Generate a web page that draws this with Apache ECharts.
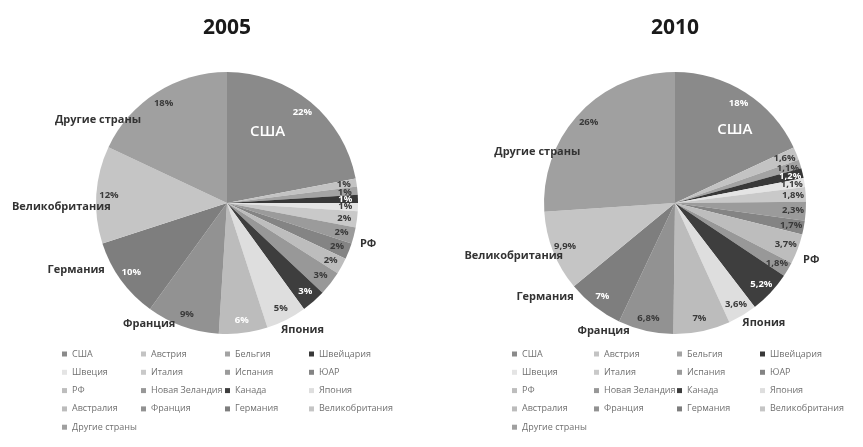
<!DOCTYPE html>
<html><head><meta charset="utf-8">
<script src="https://cdn.jsdelivr.net/npm/echarts@6/dist/echarts.min.js"></script>
<style>html,body{margin:0;padding:0;background:#fff}#c{width:863px;height:447px}</style>
</head><body><div id="c"></div>
<script>
// ---- data ----
const categories = ['США','Австрия','Бельгия','Швейцария','Швеция','Италия','Испания','ЮАР','РФ','Новая Зеландия','Канада','Япония','Австралия','Франция','Германия','Великобритания','Другие страны'];
const values2005 = [22,1,1,1,1,2,2,2,2,3,3,5,6,9,10,12,18];
const values2010 = [18,1.6,1.1,1.2,1.1,1.8,2.3,1.7,3.7,1.8,5.2,3.6,7,6.8,7,9.9,26];
const yearTitles = ['2005','2010'];
const namedSlices = ['Другие страны','Великобритания','Германия','Франция','Япония','РФ'];

// ---- styles ----
const FONT = 'Open Sans';
const sliceColors = ['#8a8a8a','#c3c3c3','#a3a3a3','#383838','#e4e4e4','#c9c9c9','#9b9b9b','#848484','#bdbdbd','#989898','#3e3e3e','#dedede','#bcbcbc','#929292','#7e7e7e','#c5c5c5','#a0a0a0'];
const charts = [
  { values: values2005, center: [227, 203], radius: 131, legendLefts: [62, 141, 225, 309],
    whiteLabels: ['США','Канада','Германия','Австралия','Швейцария'],
    nameOffsets: {'Другие страны':[-47,46],'Великобритания':[-13,13],'Германия':[-27,-23],'Франция':[-26,-23],'Япония':[6,-9],'РФ':[7,-33]},
    usaOffset: [-3,-18] },
  { values: values2010, center: [675, 203], radius: 131, legendLefts: [512, 594, 677, 760],
    whiteLabels: ['США','Канада','Германия','Швейцария'],
    nameOffsets: {'Другие страны':[-26,53],'Великобритания':[-19,-4],'Германия':[-36,-27],'Франция':[-37,-21],'Япония':[10,-11],'РФ':[-7,3]},
    usaOffset: [23,-15] }
];

function fmtPct(v){ return String(v).replace('.', ',') + '%'; }

const series = [];
const legends = [];
const titles = [];
charts.forEach(function(c, ci){
  titles.push({ text: yearTitles[ci], left: c.center[0], top: 18, padding: 0, textAlign: 'center',
    textStyle: { fontFamily: FONT, fontSize: 21, fontWeight: 'bold', color: '#1a1a1a' } });
  // visible slices
  series.push({
    type: 'pie', center: c.center, radius: [0, c.radius], startAngle: 90, clockwise: true,
    silent: true, animation: false,
    data: categories.map(function(n, i){
      return { name: n, value: c.values[i], itemStyle: { color: sliceColors[i] },
        label: { show: n === 'США' } };
    }),
    label: { position: 'inside', formatter: '{b}', color: '#fff', fontFamily: FONT, fontSize: 15, fontWeight: 600 },
    labelLine: { show: false },
    labelLayout: function(){ return { dx: c.usaOffset[0], dy: c.usaOffset[1], hideOverlap: false }; },
    itemStyle: { borderWidth: 0 },
    emphasis: { disabled: true }
  });
  // percentage labels ring
  series.push({
    type: 'pie', center: c.center, radius: [c.radius * 0.76, c.radius], startAngle: 90,
    silent: true, animation: false, avoidLabelOverlap: false,
    data: categories.map(function(n, i){
      return { name: n, value: c.values[i],
        label: { color: c.whiteLabels.indexOf(n) >= 0 ? '#ffffff' : '#3a3a3a' } };
    }),
    itemStyle: { color: 'rgba(0,0,0,0)' },
    label: { show: true, position: 'inside', formatter: function(p){ return fmtPct(p.value); },
      fontFamily: FONT, fontSize: 9.5, fontWeight: 'bold' },
    labelLine: { show: false },
    labelLayout: { hideOverlap: false, moveOverlap: null },
    emphasis: { disabled: true }
  });
  // category name labels ring
  series.push({
    type: 'pie', center: c.center, radius: [c.radius, c.radius + 38], startAngle: 90,
    silent: true, animation: false, avoidLabelOverlap: false,
    data: categories.map(function(n, i){
      return { name: n, value: c.values[i], label: { show: namedSlices.indexOf(n) >= 0 } };
    }),
    itemStyle: { color: 'rgba(0,0,0,0)' },
    label: { position: 'inside', formatter: '{b}', color: '#333333', fontFamily: FONT, fontSize: 11, fontWeight: 'bold' },
    labelLine: { show: false },
    labelLayout: function(p){
      const o = c.nameOffsets[categories[p.dataIndex]];
      return o ? { dx: o[0], dy: o[1], hideOverlap: false } : { hideOverlap: false };
    },
    emphasis: { disabled: true }
  });
  c.legendLefts.forEach(function(x, j){
    legends.push({
      orient: 'vertical', left: x, top: 348, padding: 0, itemGap: 6.3,
      itemWidth: 5, itemHeight: 5, icon: 'rect', selectedMode: false,
      data: categories.filter(function(_, i){ return i % 4 === j; }),
      textStyle: { fontFamily: FONT, fontSize: 9, color: '#707070', lineHeight: 12 }
    });
  });
});

const chart = echarts.init(document.getElementById('c'));
chart.setOption({ animation: false, backgroundColor: '#ffffff', title: titles, legend: legends, series: series });
</script></body></html>
